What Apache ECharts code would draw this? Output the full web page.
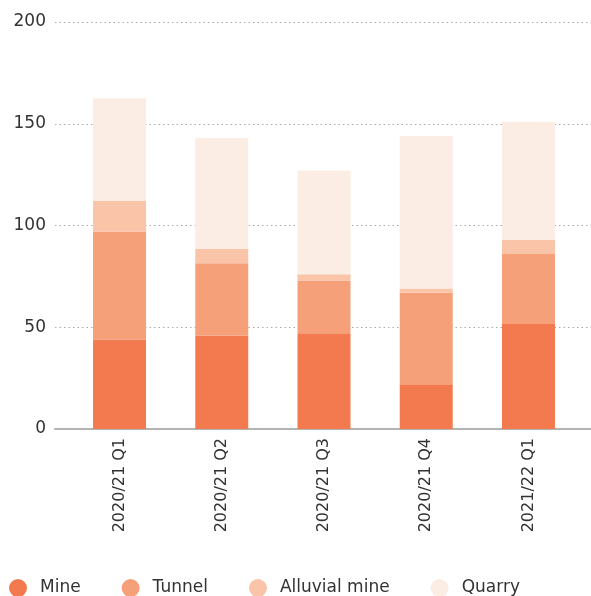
<!DOCTYPE html>
<html>
<head>
<meta charset="utf-8">
<script src="https://cdn.jsdelivr.net/npm/echarts@6/dist/echarts.min.js"></script>
<style>
html,body{margin:0;padding:0;background:#fff;}
#chart{width:591px;height:596px;}
</style>
</head>
<body>
<div id="chart"></div>
<script>
const categories = ['2020/21 Q1', '2020/21 Q2', '2020/21 Q3', '2020/21 Q4', '2021/22 Q1'];
const mine = [44, 46, 47, 22, 52];
const tunnel = [53, 35.5, 26, 45, 34];
const alluvialMine = [15, 7, 3, 2, 7];
const quarry = [50.5, 54.5, 51, 75, 58];
const yTicks = [0, 50, 100, 150, 200];

const FONT = '"DejaVu Sans", sans-serif';
const colors = ['#F37A4E', '#F6A07A', '#FAC4A9', '#FCEDE4'];
const names = ['Mine', 'Tunnel', 'Alluvial mine', 'Quarry'];
const values = [mine, tunnel, alluvialMine, quarry];

const chart = echarts.init(document.getElementById('chart'), null, {renderer: 'canvas'});
chart.setOption({
  animation: false,
  backgroundColor: '#fff',
  grid: [
    {left: 55, right: 0, top: 22, bottom: 167},
    {left: 68.4, right: 11.4, top: 22, bottom: 167}
  ],
  xAxis: [
    {gridIndex: 0, type: 'category', data: categories,
     axisLine: {show: true, lineStyle: {color: '#b3b3b3', width: 2}},
     axisTick: {show: false}, axisLabel: {show: false}, splitLine: {show: false}},
    {gridIndex: 1, type: 'category', data: categories,
     axisLine: {show: false}, axisTick: {show: false},
     axisLabel: {rotate: 90, margin: 9, color: '#333', fontSize: 16, fontFamily: FONT}}
  ],
  yAxis: [
    {gridIndex: 0, type: 'value', min: yTicks[0], max: yTicks[yTicks.length - 1], interval: 50,
     axisLine: {show: false}, axisTick: {show: false},
     axisLabel: {margin: 9, color: '#333', fontSize: 17, fontFamily: FONT},
     splitLine: {show: true, lineStyle: {color: '#aaa', type: [1.5, 3], width: 1}}},
    {gridIndex: 1, type: 'value', min: 0, max: 200, show: false, splitLine: {show: false}}
  ],
  legend: {
    left: 9, top: 579, padding: 0, itemWidth: 18, itemHeight: 18, itemGap: 41, icon: 'circle',
    textStyle: {color: '#333', fontSize: 17, fontFamily: FONT, padding: [0, 0, 0, 8]},
    data: names
  },
  series: names.map((n, i) => ({
    name: n, type: 'bar', stack: 'total', xAxisIndex: 1, yAxisIndex: 1,
    barWidth: 53, data: values[i], itemStyle: {color: colors[i]}
  }))
});
</script>
</body>
</html>
